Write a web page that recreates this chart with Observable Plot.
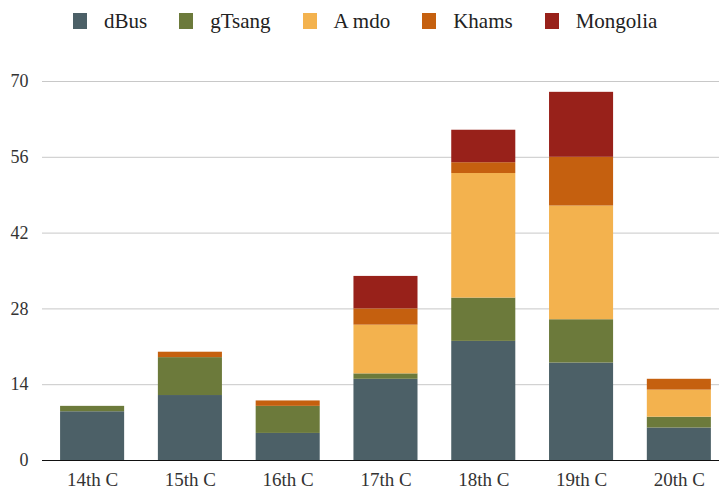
<!DOCTYPE html>
<html>
<head>
<meta charset="utf-8">
<script src="https://cdn.jsdelivr.net/npm/d3@7"></script>
<script src="https://cdn.jsdelivr.net/npm/@observablehq/plot@0.6"></script>
<style>
  body { margin: 0; background: #fff; font-family: "Liberation Serif", "DejaVu Serif", "Times New Roman", serif; }
  #legend { height: 42px; display: flex; align-items: center; padding-left: 73px; gap: 32px; font-size: 21px; color: #222; }
  #legend .item { display: flex; align-items: center; }
  #legend .sw { width: 14px; height: 16px; margin-right: 17px; }
  svg text { font-family: "Liberation Serif", "DejaVu Serif", "Times New Roman", serif; }
</style>
</head>
<body>
<div id="legend"></div>
<div id="chart"></div>
<script>
const centuries = ["14th C", "15th C", "16th C", "17th C", "18th C", "19th C", "20th C"];
const regions = ["dBus", "gTsang", "A mdo", "Khams", "Mongolia"];
const dBus     = [9, 12, 5, 15, 22, 18, 6];
const gTsang   = [1, 7, 5, 1, 8, 8, 2];
const amdo     = [0, 0, 0, 9, 23, 21, 5];
const khams    = [0, 1, 1, 3, 2, 9, 2];
const mongolia = [0, 0, 0, 6, 6, 12, 0];
const yTicks = [0, 14, 28, 42, 56, 70];
const colors = ["#4c6067", "#6c7a3b", "#f3b24e", "#c5600f", "#98211a"];

const series = [dBus, gTsang, amdo, khams, mongolia];
const data = [];
centuries.forEach((c, i) => {
  regions.forEach((r, j) => {
    data.push({century: c, region: r, value: series[j][i]});
  });
});

const legend = document.getElementById("legend");
regions.forEach((r, j) => {
  const it = document.createElement("div");
  it.className = "item";
  const sw = document.createElement("span");
  sw.className = "sw";
  sw.style.background = colors[j];
  const t = document.createElement("span");
  t.textContent = r;
  it.appendChild(sw); it.appendChild(t);
  legend.appendChild(it);
});

const chart = Plot.plot({
  width: 719,
  height: 447,
  marginTop: 39,
  marginBottom: 29,
  marginLeft: 42,
  marginRight: 0,
  style: {fontFamily: "'Liberation Serif', 'DejaVu Serif', serif", background: "#fff"},
  x: {domain: centuries, paddingInner: 0.345, paddingOuter: 0.134, align: 0.69, round: false, label: null},
  y: {domain: [0, 70], label: null},
  color: {domain: regions, range: colors},
  marks: [
    Plot.gridY(yTicks, {stroke: "#c8c8c8", strokeOpacity: 1}),
    Plot.barY(data, Plot.stackY({x: "century", y: "value", fill: "region", order: regions})),
    Plot.ruleY([0], {stroke: "#111", strokeWidth: 1.2}),
    Plot.axisY(yTicks, {tickSize: 0, tickPadding: 14, fontSize: 18, fill: "#333", label: null}),
    Plot.axisX({tickSize: 0, tickPadding: 12, fontSize: 19, fill: "#333", label: null})
  ]
});
document.getElementById("chart").appendChild(chart);
</script>
</body>
</html>
